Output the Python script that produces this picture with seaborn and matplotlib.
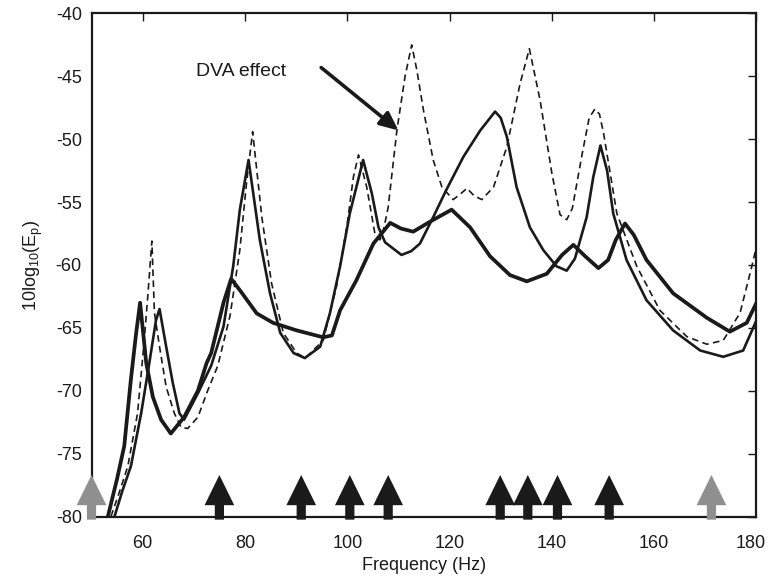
import numpy as np
import pandas as pd
import matplotlib
matplotlib.use("Agg")
import matplotlib.pyplot as plt
import matplotlib.transforms as mtransforms
import seaborn as sns

# ---------------- data ----------------
thick_x = [53.2, 55.0, 56.4, 57.7, 58.7, 59.5, 60.7, 62.0, 63.6, 65.5, 68.1, 70.8, 72.5,
           73.4, 75.8, 77.3, 79.0, 82.3, 85.5, 90.1, 95.3, 97.0, 98.6, 101.8, 105.1,
           108.4, 110.5, 112.9, 116.2, 120.4, 124.0, 127.9, 131.8, 135.1, 139.0, 142.0,
           144.2, 146.5, 149.1, 151.0, 152.5, 154.3, 156.0, 158.5, 163.7, 170.3, 174.8,
           178.1, 180.0]
thick_y = [-80.0, -77.0, -74.4, -69.1, -65.5, -63.0, -67.8, -70.5, -72.3, -73.4, -72.1, -70.0, -67.8,
           -67.0, -63.0, -61.1, -62.0, -63.85, -64.6, -65.2, -65.75, -65.6, -63.6, -61.2, -58.3,
           -56.65, -57.1, -57.35, -56.55, -55.6, -57.0, -59.3, -60.8, -61.3, -60.7, -59.2,
           -58.4, -59.3, -60.25, -59.6, -58.0, -56.7, -57.6, -59.6, -62.25, -64.2, -65.3,
           -64.6, -63.0]

medium_x = [54.5, 56.0, 57.7, 59.7, 61.3, 62.6, 63.3, 64.6, 65.9, 67.2, 68.1, 70.8, 73.4,
            75.8, 77.7, 79.0, 80.7, 82.9, 84.9, 86.9, 89.5, 91.7, 94.7, 96.6, 98.6, 100.5,
            103.1, 104.8, 106.1, 107.4, 110.6, 112.5, 114.2, 116.8, 119.4, 122.7, 126.0,
            128.9, 130.0, 131.2, 133.1, 135.7, 138.3, 140.9, 142.9, 144.5, 146.8, 148.1,
            149.5, 150.8, 152.0, 154.6, 158.5, 163.7, 169.0, 173.5, 177.4, 180.0]
medium_y = [-80.0, -78.0, -76.0, -71.8, -67.8, -64.4, -63.5, -66.5, -69.4, -71.8, -72.3, -70.2, -68.0,
            -64.9, -60.1, -55.6, -51.65, -58.0, -62.25, -65.4, -67.0, -67.4, -66.5, -63.85, -60.1, -55.9,
            -51.65, -54.3, -57.0, -58.2, -59.2, -58.9, -58.3, -56.2, -54.0, -51.4, -49.3,
            -47.8, -48.3, -49.8, -53.8, -57.0, -58.8, -60.1, -60.45, -59.5, -56.2, -53.0,
            -50.5, -52.5, -55.9, -59.6, -62.8, -65.2, -66.8, -67.3, -66.8, -64.4]

dashed_x = [53.8, 55.5, 57.1, 59.0, 60.2, 61.0, 61.8, 62.3, 63.3, 64.6, 66.2, 67.5, 68.8,
            70.8, 72.7, 74.7, 77.1, 79.0, 80.3, 81.5, 83.3, 85.2, 87.5, 90.1, 91.8, 95.3,
            97.9, 99.9, 101.2, 102.2, 103.8, 105.4, 106.4, 107.1, 108.0, 109.7, 111.3,
            112.6, 113.6, 114.9, 116.8, 118.5, 120.7, 122.0, 123.4, 124.8, 126.3, 128.6,
            131.2, 133.8, 135.6, 137.7, 140.0, 141.6, 142.9, 144.0, 146.0, 147.3, 148.4,
            149.3, 150.1, 152.7, 156.6, 161.1, 166.4, 170.3, 173.5, 176.8, 179.1, 180.0]
dashed_y = [-80.0, -78.0, -76.0, -71.8, -66.5, -62.5, -58.1, -63.8, -66.5, -69.7, -71.8, -72.9, -73.0,
            -72.1, -70.0, -68.0, -64.0, -58.8, -53.5, -49.4, -56.2, -61.45, -65.4, -67.0, -67.4, -66.0,
            -61.7, -57.0, -53.0, -51.25, -53.8, -57.5, -58.0, -57.2, -55.4, -49.3, -45.0,
            -42.5, -44.5, -47.7, -51.65, -53.8, -54.8, -54.4, -53.9, -54.5, -54.8, -53.8,
            -50.6, -45.55, -42.8, -46.9, -52.7, -56.0, -56.4, -55.5, -51.0, -48.3, -47.6,
            -48.0, -49.5, -55.9, -60.1, -63.6, -65.7, -66.3, -66.0, -63.8, -60.1, -58.5]

arrow_black_x = [75.0, 91.0, 100.5, 108.0, 129.9, 135.3, 141.1, 151.2]
arrow_gray_x = [50.0, 171.2]

x_ticks = [60, 80, 100, 120, 140, 160, 180]
y_ticks = [-80, -75, -70, -65, -60, -55, -50, -45, -40]

annot_text = "DVA effect"
annot_text_xy = (70.4, -44.65)
annot_tail_xy = (94.9, -44.3)
annot_tip_xy = (110.0, -49.3)

# ---------------- style ----------------
sns.set_style("white")
plt.rcParams['font.family'] = ['Liberation Sans', 'DejaVu Sans']
plt.rcParams['mathtext.default'] = 'regular'
plt.rcParams['axes.unicode_minus'] = False

fig = plt.figure(figsize=(7.69, 5.81), dpi=100)
ax = fig.add_axes([0.119, 0.111, 0.8647, 0.8658])

df_thick = pd.DataFrame({"f": thick_x, "E": thick_y})
df_med = pd.DataFrame({"f": medium_x, "E": medium_y})
df_dash = pd.DataFrame({"f": dashed_x, "E": dashed_y})

sns.lineplot(data=df_dash, x="f", y="E", ax=ax, color="#1a1a1a", lw=1.2,
             linestyle=(0, (4, 2.6)), sort=False, estimator=None)
sns.lineplot(data=df_med, x="f", y="E", ax=ax, color="#1a1a1a", lw=1.9,
             sort=False, estimator=None)
sns.lineplot(data=df_thick, x="f", y="E", ax=ax, color="#1a1a1a", lw=2.7,
             sort=False, estimator=None)

ax.set_xlim(50, 180)
ax.set_ylim(-80, -40)
ax.set_xticks(x_ticks)
ax.set_yticks(y_ticks)
ax.tick_params(direction="in", length=6, width=1, top=True, right=True,
               labelsize=13, colors="#1a1a1a")
ax.tick_params(axis="x", pad=13)
ax.tick_params(axis="y", pad=7)
for sp in ax.spines.values():
    sp.set_linewidth(1.6)
    sp.set_color("#1a1a1a")
    sp.set_visible(True)

# keep the last x tick label inside the figure
last_lbl = ax.get_xticklabels()[-1]
last_lbl.set_transform(last_lbl.get_transform() +
                       mtransforms.ScaledTranslation(-4 / 72, 0, fig.dpi_scale_trans))

ax.set_xlabel("Frequency (Hz)", fontsize=13, color="#1a1a1a", labelpad=4)
ax.set_ylabel("10log$_{10}$(E$_{p}$)", fontsize=13, color="#1a1a1a", labelpad=8)

# frequency markers (arrows)
tip_y, base_y, bot_y = -76.7, -79.1, -80.25
head_hw, shaft_hw = 2.9, 0.9

def draw_marker(xc, color):
    px = [xc, xc + head_hw, xc + shaft_hw, xc + shaft_hw, xc - shaft_hw, xc - shaft_hw, xc - head_hw]
    py = [tip_y, base_y, base_y, bot_y, bot_y, base_y, base_y]
    ax.fill(px, py, color=color, lw=0, clip_on=False, zorder=5)

for xc in arrow_black_x:
    draw_marker(xc, "#1a1a1a")
for xc in arrow_gray_x:
    draw_marker(xc, "#8f8f8f")

ax.annotate("", xy=annot_tip_xy, xytext=annot_tail_xy,
            arrowprops=dict(arrowstyle="-|>,head_length=1.1,head_width=0.5",
                            color="#1a1a1a", lw=2.6, shrinkA=0, shrinkB=0))
ax.text(annot_text_xy[0], annot_text_xy[1], annot_text, fontsize=14,
        color="#1a1a1a", va="center", ha="left")

fig.savefig("out.png", dpi=100)
